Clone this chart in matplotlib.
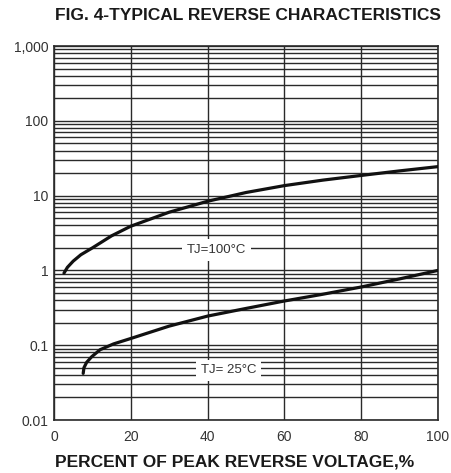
import numpy as np
import matplotlib
matplotlib.use("Agg")
import matplotlib.pyplot as plt
from matplotlib.ticker import LogLocator, FixedLocator, FixedFormatter

plt.rcParams['font.family'] = ['Liberation Sans', 'DejaVu Sans']

# percent of peak reverse voltage vs reverse current
x_100 = [2.6, 3.5, 5, 7, 10, 15, 20, 30, 40, 50, 60, 70, 80, 90, 100]
y_100 = [0.92, 1.1, 1.33, 1.62, 2.0, 2.9, 3.9, 6.0, 8.4, 11.0, 13.6, 16.1, 18.6, 21.4, 24.4]

x_25 = [7.6, 7.8, 8.5, 9.8, 12, 15.5, 20, 30, 40, 50, 60, 70, 80, 90, 100]
y_25 = [0.042, 0.05, 0.059, 0.07, 0.087, 0.104, 0.123, 0.18, 0.245, 0.31, 0.39, 0.48, 0.60, 0.77, 1.0]

x_ticks = [0, 20, 40, 60, 80, 100]
y_ticks = [0.01, 0.1, 1, 10, 100, 1000]
y_tick_labels = ["0.01", "0.1", "1", "10", "100", "1,000"]

grid_col = "#2a2a2a"
txt_col = "#333333"

fig = plt.figure(figsize=(4.51, 4.73), dpi=100)
ax = fig.add_axes([54 / 451, 1 - 420 / 473, 384 / 451, 374 / 473])

ax.set_yscale("log")
ax.set_xlim(0, 100)
ax.set_ylim(0.01, 1000)

# grid: majors + minors on y, majors on x
ax.yaxis.set_major_locator(FixedLocator(y_ticks))
ax.yaxis.set_major_formatter(FixedFormatter(y_tick_labels))
ax.yaxis.set_minor_locator(LogLocator(base=10, subs=np.arange(2, 10)))
ax.yaxis.set_minor_formatter(plt.NullFormatter())
ax.xaxis.set_major_locator(FixedLocator(x_ticks))

ax.grid(which="major", axis="both", color=grid_col, lw=1.0)
ax.grid(which="minor", axis="y", color=grid_col, lw=1.0)
ax.tick_params(which="both", length=0)
ax.tick_params(axis="x", pad=7, labelsize=10, labelcolor=txt_col)
ax.tick_params(axis="y", pad=4, labelsize=10, labelcolor=txt_col)
for s in ax.spines.values():
    s.set_color(grid_col)
    s.set_linewidth(1.2)

ax.plot(x_100, y_100, color="#111111", lw=2.3, solid_capstyle="round", zorder=3)
ax.plot(x_25, y_25, color="#111111", lw=2.3, solid_capstyle="round", zorder=3)

box = dict(facecolor="white", edgecolor="none", pad=3.5)
ax.text(42.4, 1.86, "TJ=100°C", ha="center", va="center", fontsize=9.5,
        color=txt_col, bbox=box, zorder=4)
ax.text(45.5, 0.046, "TJ= 25°C", ha="center", va="center", fontsize=9.5,
        color=txt_col, bbox=box, zorder=4)

fig.text(248 / 451, 1 - 15 / 473, "FIG. 4-TYPICAL REVERSE CHARACTERISTICS",
         ha="center", va="center", fontsize=12.5, fontweight="bold", color="#1a1a1a")
fig.text(235 / 451, 1 - 462 / 473, "PERCENT OF PEAK REVERSE VOLTAGE,%",
         ha="center", va="center", fontsize=12.5, fontweight="bold", color="#1a1a1a")

fig.savefig("out.png", dpi=100)
